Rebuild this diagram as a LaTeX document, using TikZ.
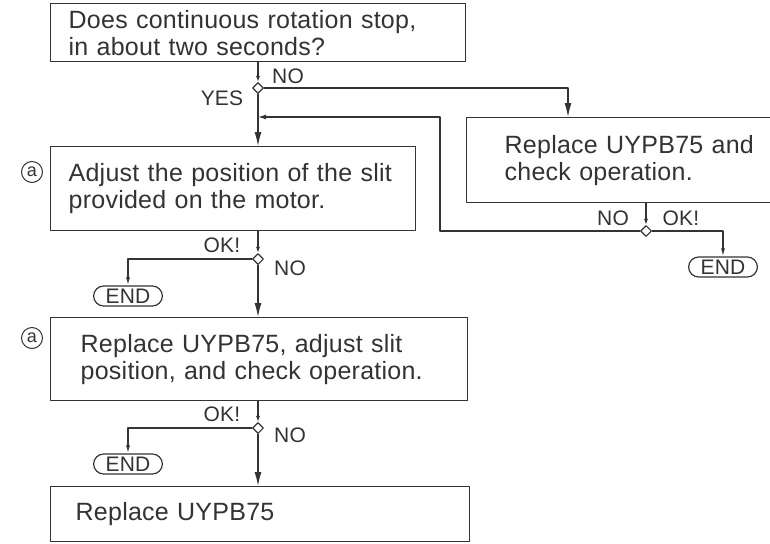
\documentclass[tikz,border=0pt]{standalone}
\usepackage{fontspec}
\setmainfont{Liberation Sans}[LetterSpace=1]
\usetikzlibrary{arrows.meta,shapes.geometric}
\definecolor{ink}{HTML}{333333}
\newcommand{\boxfont}{\fontsize{25}{27}\selectfont}
\newcommand{\lblfont}{\fontsize{21}{23}\selectfont}

\begin{document}
\begin{tikzpicture}[x=1pt,y=-1pt,line join=round,line cap=round,line width=1.3pt,color=ink]
                \tikzset{stepbox/.style={draw,rectangle,anchor=north west,align=left,inner ysep=0pt,font=\boxfont},
                    branch/.style={diamond,draw,fill=white,line width=1.1pt,inner sep=0pt,minimum width=11pt,minimum height=11pt},
                    endcap/.style={draw,rounded corners=10pt,line width=1.2pt,inner xsep=12pt,inner ysep=0pt,minimum height=20pt,font=\lblfont},
                    circmark/.style={circle,draw,line width=1pt,inner sep=0pt,minimum size=21pt,font=\fontsize{18}{18}\selectfont},
                    lbl/.style={font=\lblfont,inner sep=0pt},
                    bigarr/.style={-{Latex[length=14pt,width=7pt]}},
                    midarr/.style={-{Latex[length=8pt,width=5pt]}},
                    smallarr/.style={-{Latex[length=8pt,width=4pt]}},
                    tinyarr/.style={-{Latex[length=6pt,width=4pt]}}}
                \def \xm{258}
                \fill[white] (0,0) rectangle (770,543);
                \useasboundingbox (0,0) rectangle (770,543);
                % boxes
                \node[stepbox,minimum height=58pt,inner xsep=18pt,text width=379pt] (ask) at (50,3) {Does continuous rotation stop,\\in about two seconds?};
                \node[stepbox,minimum height=85pt,inner xsep=38pt,text width=280pt] (swap) at (466,117) {Replace UYPB75 and\\check operation.};
                \node[stepbox,minimum height=84pt,inner xsep=18pt,text width=329pt] (adjust) at (50,146) {Adjust the position of the slit\\provided on the motor.};
                \node[stepbox,minimum height=83pt,inner xsep=30pt,text width=357pt] (swapadj) at (50,317) {Replace UYPB75, adjust slit\\position, and check operation.};
                \node[stepbox,minimum height=55pt,inner xsep=25pt,text width=369pt] (last) at (50,486) {Replace UYPB75};
                \node[circmark] (a1) at (32,172) {a};
                \node[circmark] (a2) at (32,338) {a};
                % branches
                \node[branch] (d1) at (\xm,88) {};
                \node[branch] (d2) at (\xm,259) {};
                \node[branch] (d3) at (\xm,428) {};
                \node[branch] (d4) at (646,231) {};
                \node[endcap] (end1) at (128,296) {END};
                \node[endcap] (end2) at (128,464) {END};
                \node[endcap] (end3) at (723,267) {END};
                \node[lbl] (no1) at (288,76) {NO};
                \node[lbl] (yes1) at (222,98) {YES};
                \node[lbl] (ok2) at (222,245) {OK!};
                \node[lbl] (no2) at (290,268) {NO};
                \node[lbl] (ok3) at (222,414) {OK!};
                \node[lbl] (no3) at (290,435) {NO};
                \node[lbl] (no4) at (613,218) {NO};
                \node[lbl] (ok4) at (681,218) {OK!};
                % connectors
                \coordinate (back) at (440,117);
                \draw[tinyarr] (ask.south -| d1) -- (d1.north);
                \draw[bigarr] (d1.south) -- (adjust.north -| d1);
                \draw[bigarr] (d1.east) -| ([xshift=102pt]swap.north west);
                \draw[tinyarr] (swap.south -| d4) -- (d4.north);
                \draw[smallarr] (d4.east) -| (end3.north);
                \draw[midarr] (d4.west) -| (back) -- (back -| d1);
                \draw[tinyarr] (adjust.south -| d2) -- (d2.north);
                \draw[smallarr] (d2.west) -| (end1.north);
                \draw[bigarr] (d2.south) -- (swapadj.north -| d2);
                \draw[tinyarr] (swapadj.south -| d3) -- (d3.north);
                \draw[smallarr] (d3.west) -| (end2.north);
                \draw[bigarr] (d3.south) -- (last.north -| d3);
            \end{tikzpicture}
\end{document}
